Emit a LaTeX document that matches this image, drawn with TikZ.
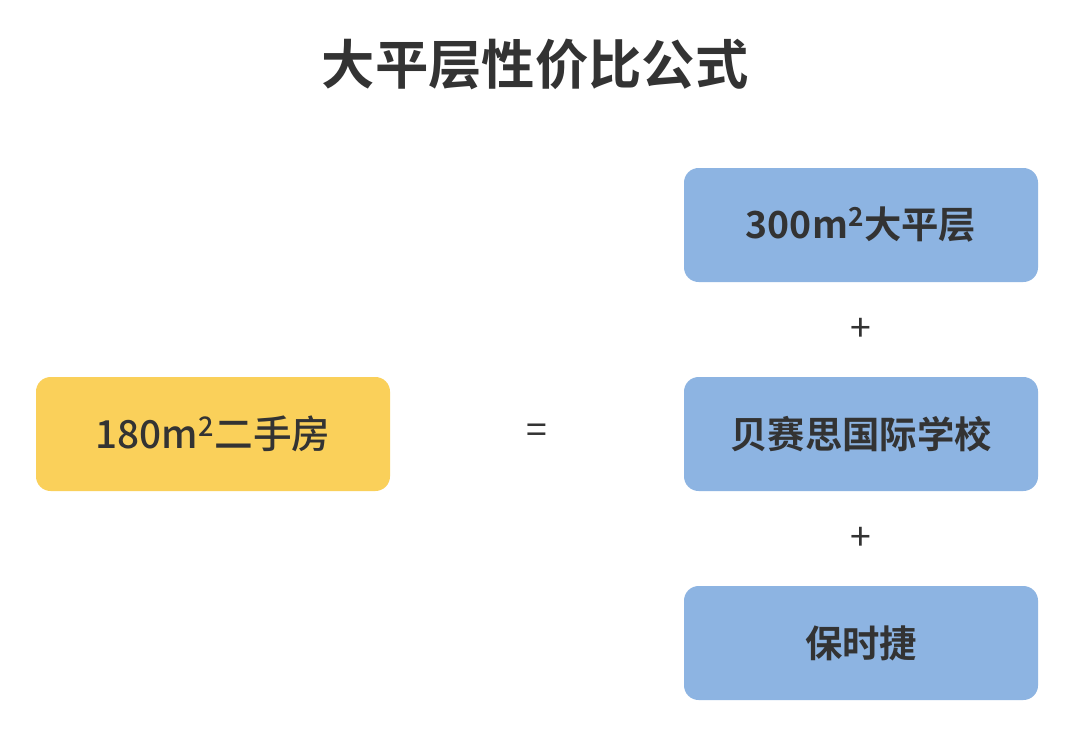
\documentclass[tikz,border=0pt]{standalone}
\usepackage{fontspec}
\newfontfamily\cjk{Noto Sans CJK SC}[BoldFont={* Bold}]
\newfontfamily\cjkb{Noto Sans CJK SC Bold}
\newfontfamily\cjkm{Noto Sans CJK SC Medium}
\definecolor{yel}{HTML}{FAD05A}
\definecolor{blu}{HTML}{8DB4E2}
\definecolor{txt}{HTML}{333333}
\begin{document}
\begin{tikzpicture}[x=0.75pt,y=-0.75pt,
  box/.style={rounded corners=11pt,minimum width=265.5pt,minimum height=85.5pt,inner sep=0pt,text=txt,font=\cjkb\fontsize{28}{30}\selectfont},
  op/.style={text=txt,font=\cjk\fontsize{28}{30}\selectfont}]
\useasboundingbox (0,0) rectangle (1080,746);
\fill[white] (0,0) rectangle (1080,746);
\node[text=txt,font=\cjkb\fontsize{40}{44}\selectfont] (title) at (535,64) {大平层性价比公式};
\node[box,fill=yel,font=\cjkm\fontsize{29}{30}\selectfont] (a) at (213,434) {180m\textsuperscript{2}二手房};
\node[box,fill=blu] (b1) at (861,225) {300m\textsuperscript{2}大平层};
\node[box,fill=blu] (b2) at (861,434) {贝赛思国际学校};
\node[box,fill=blu] (b3) at (861,643) {保时捷};
\node[op] (eq) at (537,434) {=};
\node[op] (p1) at (861,330) {+};
\node[op] (p2) at (861,539) {+};
\end{tikzpicture}
\end{document}
